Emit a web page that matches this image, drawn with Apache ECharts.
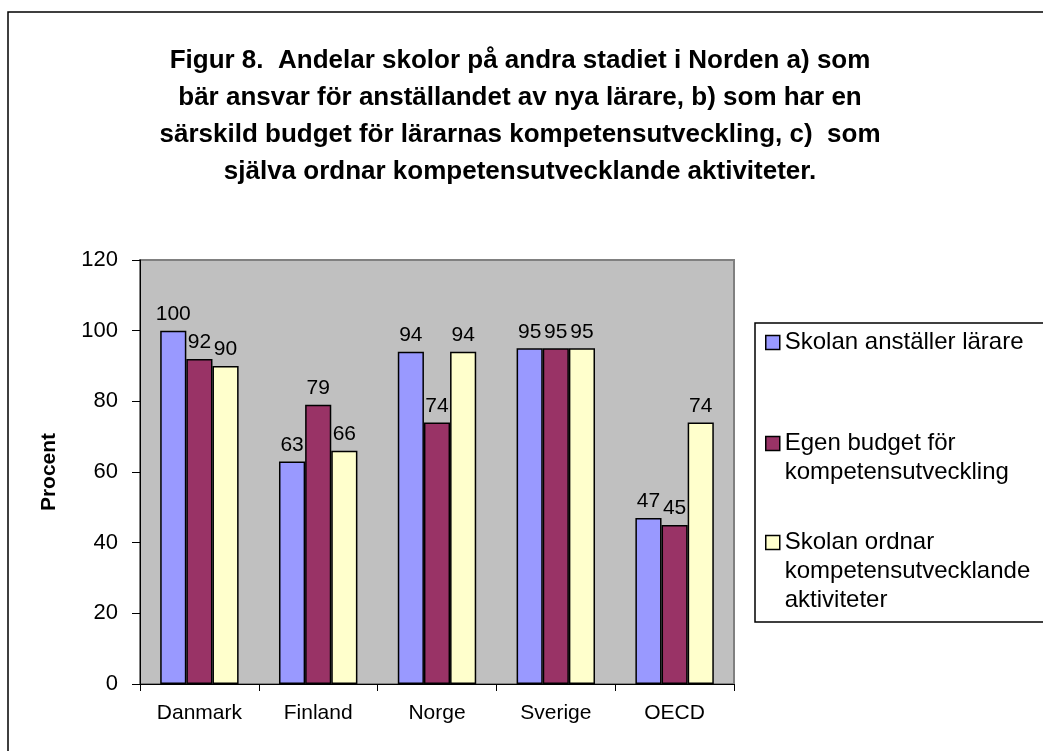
<!DOCTYPE html>
<html>
<head>
<meta charset="utf-8">
<script src="https://cdn.jsdelivr.net/npm/echarts@6/dist/echarts.min.js"></script>
<style>
  html, body { margin: 0; padding: 0; background: #fff; }
  #chart { width: 1043px; height: 751px; }
</style>
</head>
<body>
<div id="chart"></div>
<script>
let chart = echarts.init(document.getElementById('chart'));

let countries = ['Danmark', 'Finland', 'Norge', 'Sverige', 'OECD'];
let anstaller = [100, 63, 94, 95, 47];
let egenBudget = [92, 79, 74, 95, 45];
let ordnar = [90, 66, 94, 95, 74];
let seriesNames = ['Skolan anställer lärare', 'Egen budget för\nkompetensutveckling', 'Skolan ordnar\nkompetensutvecklande\naktiviteter'];

let font = 'Liberation Sans, Arial, sans-serif';

function barSeries(name, data, color) {
	return {
		name: name,
		type: 'bar',
		data: data,
		barGap: '0%',
		barCategoryGap: '34%',
		itemStyle: { color: color, borderColor: '#000', borderWidth: 1.5 },
		label: {
			show: true,
			position: 'top',
			distance: 6,
			color: '#000',
			fontFamily: font,
			fontSize: 21
		}
	};
}

// one legend per entry; blank lines in front keep the icon beside the first line
function legendEntry(idx, top) {
	let blanks = seriesNames[idx].split('\n').length - 1;
	return {
		data: [seriesNames[idx]],
		formatter: function(name) {
			return '\n'.repeat(blanks) + name;
		},
		left: 765,
		top: top,
		orient: 'vertical',
		icon: 'rect',
		itemWidth: 14,
		itemHeight: 14,
		itemGap: 0,
		padding: 0,
		selectedMode: false,
		itemStyle: { borderColor: '#000', borderWidth: 1.5 },
		textStyle: { fontFamily: font, fontSize: 24, color: '#000', lineHeight: 29 }
	};
}

option = {
	backgroundColor: '#fff',
	animation: false,
	title: {
		text: 'Figur 8.  Andelar skolor på andra stadiet i Norden a) som\nbär ansvar för anställandet av nya lärare, b) som har en\nsärskild budget för lärarnas kompetensutveckling, c)  som\nsjälva ordnar kompetensutvecklande aktiviteter.',
		left: 515,
		top: 37,
		textAlign: 'center',
		textStyle: {
			fontFamily: font,
			fontSize: 26,
			fontWeight: 'bold',
			color: '#000',
			lineHeight: 37
		}
	},
	legend: [
		legendEntry(0, 328),
		legendEntry(1, 400),
		legendEntry(2, 470)
	],
	graphic: [
		{ type: 'rect', shape: { x: 8, y: 12, width: 1100, height: 800 }, style: { fill: 'none', stroke: '#000', lineWidth: 1.5 }, z: -1 },
		{ type: 'rect', shape: { x: 755, y: 323, width: 400, height: 299 }, style: { fill: '#fff', stroke: '#000', lineWidth: 1.5 }, z: -1 }
	],
	grid: {
		left: 140,
		top: 260,
		right: 309,
		bottom: 67,
		show: true,
		backgroundColor: '#c0c0c0',
		borderColor: '#808080',
		borderWidth: 2
	},
	xAxis: {
		type: 'category',
		data: countries,
		axisLine: { lineStyle: { color: '#000', width: 1 } },
		axisTick: { show: true, length: 7, lineStyle: { color: '#000' } },
		axisLabel: { color: '#000', fontFamily: font, fontSize: 21, margin: 19 }
	},
	yAxis: {
		type: 'value',
		min: 0,
		max: 120,
		interval: 20,
		name: 'Procent',
		nameLocation: 'middle',
		nameGap: 80,
		nameTextStyle: { fontFamily: font, fontSize: 21, fontWeight: 'bold', color: '#000' },
		splitLine: { show: false },
		axisLine: { show: true, lineStyle: { color: '#000', width: 1 } },
		axisTick: { show: true, length: 8, lineStyle: { color: '#000' } },
		axisLabel: { color: '#000', fontFamily: font, fontSize: 22, margin: 22 }
	},
	series: [
		barSeries(seriesNames[0], anstaller, '#9999ff'),
		barSeries(seriesNames[1], egenBudget, '#993366'),
		barSeries(seriesNames[2], ordnar, '#ffffcc')
	]
};

chart.setOption(option, true);
</script>
</body>
</html>
